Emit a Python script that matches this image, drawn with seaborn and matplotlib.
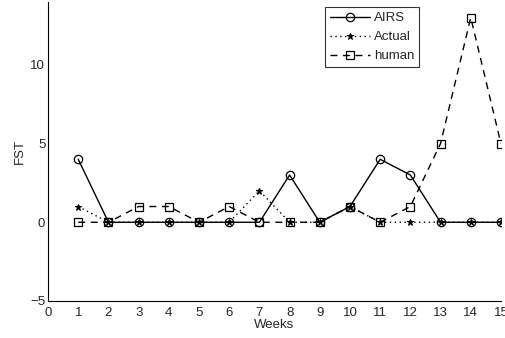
import matplotlib
matplotlib.use("Agg")
import matplotlib.pyplot as plt
import seaborn as sns
import pandas as pd

weeks = list(range(1, 16))
airs = [4, 0, 0, 0, 0, 0, 0, 3, 0, 1, 4, 3, 0, 0, 0]
actual = [1, 0, 0, 0, 0, 0, 2, 0, 0, 1, 0, 0, 0, 0, 0]
human = [0, 0, 1, 1, 0, 1, 0, 0, 0, 1, 0, 1, 5, 13, 5]
xticks = list(range(0, 16))
yticks = [-5, 0, 5, 10]

sns.set_style("white")
plt.rcParams['font.family'] = ['Liberation Sans', 'DejaVu Sans']

fig = plt.figure(figsize=(5.06, 3.38), dpi=100)
ax = fig.add_axes([0.095, 0.1095, 0.895, 0.885])

df = pd.DataFrame({"Weeks": weeks, "AIRS": airs, "Actual": actual, "human": human})

sns.lineplot(data=df, x="Weeks", y="AIRS", ax=ax, color="black", lw=1.0,
             marker="o", markersize=6, markerfacecolor="none", markeredgecolor="black",
             markeredgewidth=0.9, label="AIRS")
sns.lineplot(data=df, x="Weeks", y="Actual", ax=ax, color="black", lw=1.0, linestyle=(0, (1, 2.5)),
             marker="*", markersize=5, markerfacecolor="black", markeredgecolor="black",
             label="Actual")
sns.lineplot(data=df, x="Weeks", y="human", ax=ax, color="black", lw=1.0, linestyle=(0, (5, 4)),
             marker="s", markersize=6, markerfacecolor="none", markeredgecolor="black",
             markeredgewidth=0.9, label="human")

ax.set_xlim(0, 15)
ax.set_ylim(-5, 14)
ax.set_xticks(xticks)
ax.set_yticks(yticks)
ax.tick_params(direction="in", length=3.5, labelsize=9.5, width=0.8)
ax.tick_params(axis="x", pad=4.5)
ax.tick_params(axis="y", pad=2)
for s in ["top", "right"]:
    ax.spines[s].set_visible(False)
for s in ["left", "bottom"]:
    ax.spines[s].set_color("black")
    ax.spines[s].set_linewidth(0.8)
ax.set_xlabel("Weeks", fontsize=9.5, labelpad=0)
ax.set_ylabel("FST", fontsize=9.5, labelpad=3)

leg = ax.legend(loc="upper right", bbox_to_anchor=(0.82, 0.983), fontsize=9.5, frameon=True,
                fancybox=False, edgecolor="black", handlelength=3.0, borderpad=0.4,
                labelspacing=0.5, handletextpad=0.3, borderaxespad=0)
leg.get_frame().set_linewidth(0.8)

fig.savefig("out.png", dpi=100)
